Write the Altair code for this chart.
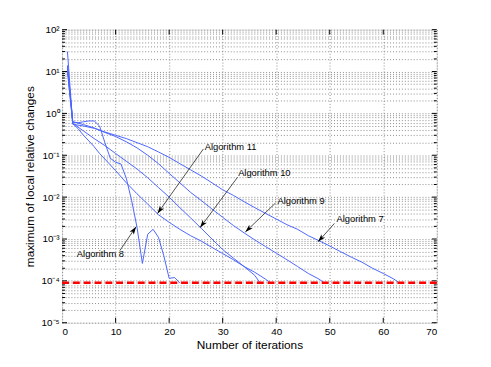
import math
import altair as alt
import pandas as pd

# ---------------- data ----------------
alg7_x = [1, 2, 4, 6, 8, 10, 12, 14, 16, 18, 20, 22, 24, 26, 28, 30, 32, 34, 36, 38, 40,
          42, 44, 46, 48, 50, 52, 54, 56, 58, 60, 62, 63]
alg7_y = [30, 0.55, 0.50, 0.44, 0.36, 0.30, 0.25, 0.20, 0.16, 0.12, 0.089, 0.063, 0.045,
          0.032, 0.022, 0.015, 0.011, 0.0078, 0.0056, 0.0041, 0.0030, 0.0022, 0.0017,
          0.0012, 0.00091, 0.00068, 0.00050, 0.00037, 0.00028, 0.00020, 0.00015, 0.00011,
          0.000089]

alg9_x = [1, 2, 4, 6, 8, 10, 12, 14, 16, 18, 20, 22, 24, 26, 28, 30, 32, 34, 36, 38, 40,
          42, 44, 46, 48, 49]
alg9_y = [14, 0.63, 0.54, 0.45, 0.35, 0.28, 0.21, 0.15, 0.10, 0.063, 0.037, 0.022, 0.013,
          0.0083, 0.0052, 0.0033, 0.0021, 0.0014, 0.00095, 0.00066, 0.00046, 0.00032,
          0.00022, 0.00015, 0.00011, 0.000089]

alg10_x = [1, 2, 4, 6, 8, 10, 12, 14, 16, 18, 20, 22, 24, 26, 28, 30, 32, 34, 36, 37]
alg10_y = [12, 0.58, 0.38, 0.25, 0.17, 0.11, 0.072, 0.047, 0.029, 0.017, 0.010, 0.0056,
           0.0032, 0.0018, 0.0010, 0.00056, 0.00035, 0.00022, 0.000135, 0.000089]

alg11_x = [1, 2, 3, 4, 5, 6, 7, 8, 9, 10, 12, 14, 16, 18, 20, 22, 24, 26, 28, 30, 32, 34,
           36, 38, 39]
alg11_y = [10, 0.57, 0.43, 0.30, 0.22, 0.16, 0.11, 0.081, 0.059, 0.043, 0.022, 0.012,
           0.0068, 0.0038, 0.0025, 0.0017, 0.0012, 0.00089, 0.00063, 0.00045, 0.00032,
           0.00022, 0.00016, 0.00011, 0.000089]

alg8_x = [1, 2, 3, 4, 5, 6, 7, 8, 9, 10, 11, 12, 13, 14, 15, 16, 17, 18, 19, 20, 21, 22]
alg8_y = [13, 0.62, 0.60, 0.63, 0.66, 0.66, 0.50, 0.20, 0.085, 0.068, 0.062, 0.028,
          0.0082, 0.0019, 0.00026, 0.0013, 0.0017, 0.0011, 0.00040, 0.000115, 0.00012,
          0.00009]

threshold = 9e-5

# annotations: label position, arrow start, arrow tip (data units)
ann_text = ["Algorithm 11", "Algorithm 10", "Algorithm 9", "Algorithm 7", "Algorithm 8"]
ann_lx = [26.64, 32.89, 40.24, 51.26, 2.76]
ann_ly = [0.160, 0.0372, 0.00818, 0.00292, 0.000441]
ann_sx = [26.40, 32.79, 39.87, 50.89, 10.78]
ann_sy = [0.1416, 0.0299, 0.00723, 0.00236, 0.000527]
ann_tx = [17.82, 25.78, 34.23, 47.82, 13.83]
ann_ty = [0.00405, 0.00187, 0.00147, 0.000857, 0.00197]

x_ticks = [0, 10, 20, 30, 40, 50, 60, 70]
x_inner = [10, 20, 30, 40, 50, 60]
y_exps = [-5, -4, -3, -2, -1, 0, 1, 2]
y_labels = ["10⁻⁵", "10⁻⁴", "10⁻³", "10⁻²", "10⁻¹", "10⁰", "10¹", "10²"]

# ---------------- layout ----------------
W, H = 381, 298
XMIN, XMAX = 0, 70
LMIN, LMAX = -5, 2
FONT = "Liberation Sans"
BLUE = "#4a64ff"

y_major = [10.0 ** e for e in y_exps]
y_minor = [m * 10.0 ** e for e in y_exps[:-1] for m in range(2, 10)]
y_all = sorted(y_major + y_minor)

label_expr = " : ".join(
    f"datum.value == {v!r} ? '{lab}'" for v, lab in zip(y_major, y_labels)
) + " : ''"

xs = alt.Scale(domain=[XMIN, XMAX], nice=False, zero=False)
ys = alt.Scale(type="log", domain=[10.0 ** LMIN, 10.0 ** LMAX], nice=False)

x_axis = alt.Axis(values=x_ticks, grid=True, gridDash=[1, 2], gridColor="#8c8c8c",
                  gridWidth=1, ticks=False, domain=False, labelFontSize=10,
                  labelPadding=4, title="Number of iterations", titleFontSize=12,
                  titleFontWeight="normal", titlePadding=3, labelFont=FONT,
                  titleFont=FONT, labelColor="black", titleColor="black")
y_axis = alt.Axis(values=y_all, grid=True, gridDash=[1, 2], gridColor="#8c8c8c",
                  gridWidth=1, ticks=False, domain=False, labelExpr=label_expr,
                  labelOverlap=False, labelFontSize=10, labelPadding=3,
                  title="maximum of local relative changes", titleFontSize=12,
                  titleFontWeight="normal", titlePadding=5, labelFont=FONT,
                  titleFont=FONT, labelColor="black", titleColor="black")

rows = []
for name, xx, yy in [("Algorithm 7", alg7_x, alg7_y), ("Algorithm 9", alg9_x, alg9_y),
                     ("Algorithm 10", alg10_x, alg10_y), ("Algorithm 11", alg11_x, alg11_y),
                     ("Algorithm 8", alg8_x, alg8_y)]:
    for a, b in zip(xx, yy):
        rows.append({"alg": name, "iter": a, "val": b})
df = pd.DataFrame(rows)


def px(x):
    return (x - XMIN) / (XMAX - XMIN) * W


def py(v):
    return (LMAX - math.log10(v)) / (LMAX - LMIN) * H


angles = []
for sx, sy, tx, ty in zip(ann_sx, ann_sy, ann_tx, ann_ty):
    dx = px(tx) - px(sx)
    dy = py(ty) - py(sy)
    angles.append(math.degrees(math.atan2(dx, -dy)) % 360)

ann = pd.DataFrame({"text": ann_text, "lx": ann_lx, "ly": ann_ly, "sx": ann_sx,
                    "sy": ann_sy, "tx": ann_tx, "ty": ann_ty, "ang": angles})

lines = alt.Chart(df).mark_line(color=BLUE, strokeWidth=1, clip=True).encode(
    x=alt.X("iter:Q", scale=xs, axis=x_axis),
    y=alt.Y("val:Q", scale=ys, axis=y_axis),
    detail="alg:N",
)

tick_major = pd.DataFrame({"v": y_major})
tick_minor = pd.DataFrame({"v": y_minor})
tick_x = pd.DataFrame({"t": x_inner})


def yticks(data, length):
    left = alt.Chart(data).mark_rule(color="black", strokeWidth=1).encode(
        y=alt.Y("v:Q", scale=ys, axis=y_axis), x=alt.value(0), x2=alt.value(length))
    right = alt.Chart(data).mark_rule(color="black", strokeWidth=1).encode(
        y=alt.Y("v:Q", scale=ys, axis=y_axis), x=alt.value(W - length), x2=alt.value(W))
    return [left, right]


xt_top = alt.Chart(tick_x).mark_rule(color="black", strokeWidth=1).encode(
    x=alt.X("t:Q", scale=xs, axis=x_axis), y=alt.value(0), y2=alt.value(5))
xt_bot = alt.Chart(tick_x).mark_rule(color="black", strokeWidth=1).encode(
    x=alt.X("t:Q", scale=xs, axis=x_axis), y=alt.value(H - 5), y2=alt.value(H))

thr = pd.DataFrame({"x0": [XMIN], "x1": [XMAX], "y": [threshold]})
red = alt.Chart(thr).mark_rule(color="#ff0000", strokeWidth=2.5, strokeDash=[7, 4]).encode(
    x=alt.X("x0:Q", scale=xs, axis=x_axis), x2="x1:Q",
    y=alt.Y("y:Q", scale=ys, axis=y_axis))

arrow_lines = alt.Chart(ann).mark_rule(color="#222222", strokeWidth=0.8).encode(
    x=alt.X("sx:Q", scale=xs, axis=x_axis), x2="tx:Q",
    y=alt.Y("sy:Q", scale=ys, axis=y_axis), y2="ty:Q")

HEAD = "M0,0 L0.55,1.7 L0,1.25 L-0.55,1.7 Z"
arrow_heads = alt.Chart(ann).mark_point(shape=HEAD, filled=True, size=90, color="black",
                                        opacity=1, strokeWidth=0).encode(
    x=alt.X("tx:Q", scale=xs, axis=x_axis),
    y=alt.Y("ty:Q", scale=ys, axis=y_axis),
    angle=alt.Angle("ang:Q", scale=None))

labels = alt.Chart(ann).mark_text(align="left", baseline="middle", fontSize=9.5,
                                  font=FONT, color="black").encode(
    x=alt.X("lx:Q", scale=xs, axis=x_axis),
    y=alt.Y("ly:Q", scale=ys, axis=y_axis),
    text="text:N")

chart = alt.layer(
    lines, *yticks(tick_major, 5), *yticks(tick_minor, 3), xt_top, xt_bot,
    red, arrow_lines, arrow_heads, labels
).properties(
    width=W, height=H,
    padding={"left": 55, "top": 19, "right": 47, "bottom": 42},
    autosize=alt.AutoSizeParams(type="none"),
).configure_view(stroke="black", strokeWidth=1).configure(background="white")

chart.save("out.html", embed_options={"renderer": "svg", "actions": False})
